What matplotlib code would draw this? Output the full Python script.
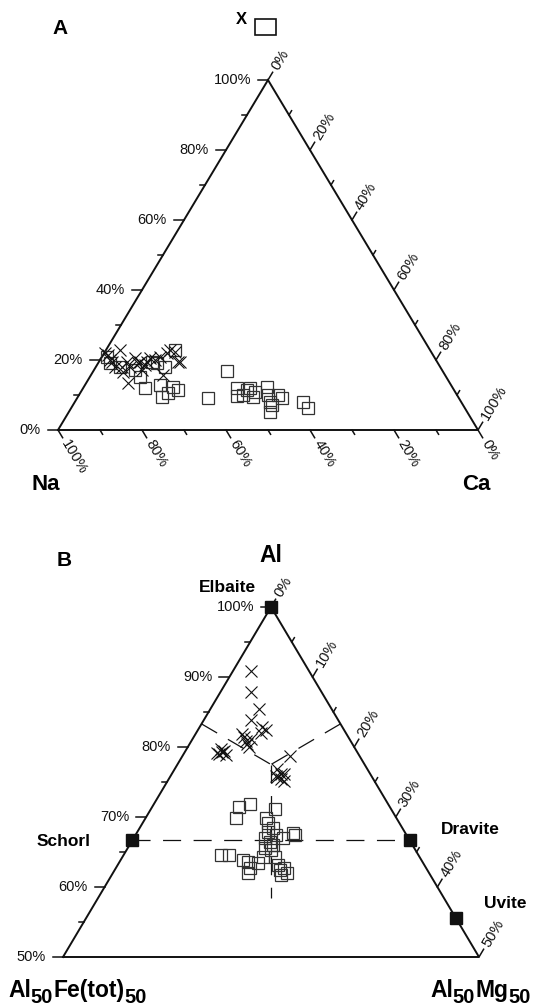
import numpy as np
import matplotlib.pyplot as plt
from matplotlib.patches import Rectangle

plt.rcParams['font.family'] = ['Liberation Sans', 'DejaVu Sans']
plt.rcParams['lines.scale_dashes'] = False

# Panel A: X-site composition, X (vacancy) % and Ca %, Na = remainder
a_cross_x = [21.9, 19.9, 22.8, 19.4, 17.9, 17.9, 16.5, 13.4, 20.5, 17.9, 19.1, 17.1, 19.4,
             19.9, 20.8, 21.9, 22.2, 19.4, 15.7, 22.8, 19.4, 19.4, 19.4, 21.4, 20.5, 18.5]
a_cross_ca = [0.2, 2.4, 3.4, 3.2, 4.6, 6.3, 7.2, 10.0, 8.1, 8.2, 9.5, 11.5, 11.5,
              13.1, 13.9, 15.0, 16.7, 18.9, 17.2, 15.3, 6.7, 9.8, 19.4, 1.2, 11.6, 11.5]
a_sq_x = [20.8, 19.1, 17.9, 17.1, 15.1, 12.0, 19.4, 19.1, 17.9, 22.8, 12.8, 9.4, 12.3, 11.4,
          10.5, 9.1, 16.8, 12.0, 9.7, 11.4, 12.0, 10.8, 9.4, 12.3, 10.0, 7.1, 5.1, 10.0,
          9.1, 8.0, 6.3, 10.0, 8.0]
a_sq_ca = [1.3, 2.8, 5.8, 9.8, 12.0, 14.7, 12.7, 14.0, 16.5, 16.5, 17.9, 20.1, 21.3, 22.9,
           20.9, 31.2, 31.8, 36.6, 37.8, 39.3, 39.7, 41.5, 41.7, 43.6, 45.0, 47.4, 47.9, 47.4,
           48.8, 54.3, 56.4, 39.0, 46.5]

# Panel B: Al % and Mg % in the Al - Al50Fe50 - Al50Mg50 triangle
b_cross_al = [90.9, 87.9, 85.4, 83.9, 82.9, 82.0, 81.4, 80.5, 81.8, 80.0, 79.3, 79.7, 78.9, 78.7,
              76.9, 76.2, 75.2, 75.9, 81.1, 79.0, 82.5, 75.5, 79.5, 79.1, 80.8, 76.1, 75.7]
b_cross_mg = [2.2, 3.7, 5.8, 5.7, 7.5, 7.8, 6.1, 6.9, 5.6, 7.4, 4.5, 4.2, 5.1, 12.9,
              12.3, 13.1, 14.0, 12.7, 7.1, 4.3, 8.2, 13.4, 4.6, 4.0, 6.6, 13.5, 12.9]
b_sq_al = [71.4, 71.9, 69.8, 71.2, 69.9, 69.1, 68.4, 67.4, 67.0, 66.4, 67.0, 67.7, 65.6, 65.3,
           64.3, 64.6, 64.6, 63.9, 63.6, 62.7, 62.0, 63.2, 62.5, 62.7, 62.0, 61.7, 64.3, 63.4,
           67.5, 67.8, 66.0]
b_sq_mg = [10.4, 11.5, 10.9, 14.9, 14.4, 15.1, 16.0, 16.9, 15.8, 16.7, 17.9, 18.8, 16.5, 17.3,
           18.3, 11.7, 12.6, 14.7, 15.4, 16.1, 16.2, 19.2, 19.8, 20.2, 20.9, 20.4, 16.9, 16.7,
           19.1, 15.7, 17.3]

end_names = ['Elbaite', 'Schorl', 'Dravite', 'Uvite']
end_al = [100.0, 66.7, 66.7, 55.6]
end_mg = [0.0, 0.0, 33.3, 44.4]

# dashed field boundaries (Al %, Mg %)
bound_segments = [
    ([66.7, 66.7], [0.0, 33.3]),
    ([83.3, 77.5], [0.0, 11.25]),
    ([83.3, 77.5], [16.7, 11.25]),
    ([77.5, 58.5], [11.25, 20.75]),
]

# triangle corners in figure pixels (left, right, top)
A_tri = ((58, 430), (478, 430), (268, 80))
B_tri = ((63, 957), (479, 957), (271, 607))


def tern(tri, top, right):
    (lx, ly), (rx, ry), (tx, ty) = tri
    top = np.asarray(top, float)
    right = np.asarray(right, float)
    return lx + right * (rx - lx) + top * (tx - lx), ly + right * (ry - ly) + top * (ty - ly)


def proj_a(x, ca):
    return tern(A_tri, np.asarray(x) / 100, np.asarray(ca) / 100)


def proj_b(al, mg):
    return tern(B_tri, (np.asarray(al) - 50) / 50, np.asarray(mg) / 50)


def unit(p, q):
    d = np.array(q, float) - np.array(p, float)
    return d / np.hypot(*d)


fig = plt.figure(figsize=(5.39, 10.07), dpi=100)
ax = fig.add_axes([0, 0, 1, 1])
ax.set_xlim(0, 539)
ax.set_ylim(1007, 0)
ax.axis('off')

TK = dict(fontsize=10.5, color='#111111')


def draw_frame(tri):
    xs = [tri[0][0], tri[1][0], tri[2][0], tri[0][0]]
    ys = [tri[0][1], tri[1][1], tri[2][1], tri[0][1]]
    ax.plot(xs, ys, color='#111111', lw=1.4, solid_joinstyle='miter')


def tick(p, d, length, label=None, rot=0, ha='left', gap=5):
    x0, y0 = p
    ax.plot([x0, x0 + d[0] * length], [y0, y0 + d[1] * length], color='#111111', lw=1.1)
    if label is not None:
        lx = x0 + d[0] * (length + gap)
        ly = y0 + d[1] * (length + gap)
        ax.text(lx, ly, label, rotation=rot, rotation_mode='anchor', ha=ha, va='center', **TK)


# ---------------- panel A ----------------
draw_frame(A_tri)
L, R, T = A_tri
d_down = unit(T, R)
d_up = unit(L, T)
rot_down = -np.degrees(np.arctan2(d_down[1], d_down[0]))
rot_up = -np.degrees(np.arctan2(d_up[1], d_up[0]))
for v in range(0, 101, 10):
    major = v % 20 == 0
    # left axis: X
    p = proj_a(v, 0)
    tick(p, (-1, 0), 10 if major else 5, f'{v}%' if major else None, ha='right', gap=7)
    # bottom axis: Na
    p = proj_a(0, 100 - v)
    tick(p, d_down, 9 if major else 5, f'{v}%' if major else None, rot=rot_down, gap=4)
    # right axis: Ca
    p = proj_a(100 - v, v)
    tick(p, d_up, 9 if major else 5, f'{v}%' if major else None, rot=rot_up, gap=4)

ax.plot(*proj_a(a_sq_x, a_sq_ca), 's', ms=8.5, mfc='none', mec='#333333', mew=0.9)
ax.plot(*proj_a(a_cross_x, a_cross_ca), 'x', ms=8.5, color='#111111', mew=0.8)

ax.text(60, 29, 'A', fontsize=15, fontweight='bold', ha='center', va='center')
ax.text(241, 19, 'X', fontsize=12, fontweight='bold', ha='center', va='center')
ax.add_patch(Rectangle((255, 19), 21, 16, fill=False, lw=1.2, ec='#111111'))
ax.text(46, 484, 'Na', fontsize=16, fontweight='bold', ha='center', va='center')
ax.text(476, 484, 'Ca', fontsize=16, fontweight='bold', ha='center', va='center')

# ---------------- panel B ----------------
draw_frame(B_tri)
L, R, T = B_tri
d_up = unit(L, T)
rot_up = -np.degrees(np.arctan2(d_up[1], d_up[0]))
for v in range(50, 101, 5):
    major = v % 10 == 0
    p = proj_b(v, 0)
    tick(p, (-1, 0), 10 if major else 5, f'{v}%' if major else None, ha='right', gap=7)
for v in range(0, 51, 5):
    major = v % 10 == 0
    p = proj_b(100 - v, v)
    tick(p, d_up, 9 if major else 5, f'{v}%' if major else None, rot=rot_up, gap=4)

for al, mg in bound_segments:
    ax.plot(*proj_b(al, mg), color='#111111', lw=0.9, linestyle=(0, (13, 9)))

ax.plot(*proj_b(b_sq_al, b_sq_mg), 's', ms=8.5, mfc='none', mec='#333333', mew=0.9)
ax.plot(*proj_b(b_cross_al, b_cross_mg), 'x', ms=8.5, color='#111111', mew=0.8)
ax.plot(*proj_b(end_al, end_mg), 's', ms=9, color='#111111', zorder=5)

ax.text(64, 561, 'B', fontsize=15, fontweight='bold', ha='center', va='center')
ax.text(271, 556, 'Al', fontsize=16.5, fontweight='bold', ha='center', va='center')
name_pos = {'Elbaite': (227, 587), 'Schorl': (64, 842), 'Dravite': (470, 829), 'Uvite': (505, 904)}
for n in end_names:
    ax.text(*name_pos[n], n, fontsize=12.5, fontweight='bold', ha='center', va='center')


def chem_label(x, y, parts, size=16.5, sub_size=14.5, sub_drop=6):
    r = fig.canvas.get_renderer()
    for s, sub in parts:
        t = ax.text(x, y + (sub_drop if sub else 0), s, fontsize=sub_size if sub else size,
                    fontweight='bold', ha='left', va='baseline')
        x += t.get_window_extent(r).width


chem_label(8, 997, [('Al', False), ('50', True), ('Fe(tot)', False), ('50', True)])
chem_label(430, 997, [('Al', False), ('50', True), ('Mg', False), ('50', True)])

fig.savefig('out.png', dpi=100)
